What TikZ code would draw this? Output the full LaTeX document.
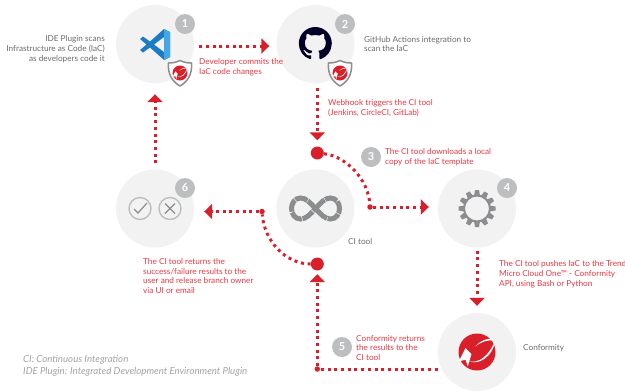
\documentclass[tikz,border=0pt]{standalone}
\usepackage{fontspec}
\setmainfont{Lato}
\usetikzlibrary{positioning, arrows.meta, svg.path}

\definecolor{trendred}{HTML}{D9202A}
\definecolor{labelred}{HTML}{E23A44}
\definecolor{labelgrey}{HTML}{6A6B6D}
\definecolor{notegrey}{HTML}{A2A3A5}
\definecolor{discgrey}{HTML}{F2F2F2}
\definecolor{badgegrey}{HTML}{BDBEC0}
\definecolor{icongrey}{HTML}{8C8D8F}
\definecolor{logoblue}{HTML}{1B7CC4}
\definecolor{logolight}{HTML}{45A6E6}

\tikzset{
    stepdisc/.style={circle, fill=discgrey, minimum size=78bp, inner sep=0},
    badge/.style={circle, fill=badgegrey, text=white, minimum size=20bp, inner sep=0, font=\fontsize{11}{11}\selectfont\bfseries},
    redtext/.style={text=labelred, align=left, anchor=west, inner sep=0, font=\fontsize{8.25}{10}\selectfont},
    greytext/.style={text=labelgrey, align=left, anchor=west, inner sep=0, font=\fontsize{8.25}{10}\selectfont},
    junction/.style={circle, fill=trendred, minimum size=13bp, inner sep=0},
    smalldot/.style={circle, fill=trendred, minimum size=5.5bp, inner sep=0},
    flow/.style={trendred, line width=3bp, dash pattern=on 3bp off 3.7bp},
    flowtip/.style={flow, -{Triangle[length=8bp, width=15bp]}}
}

% red ball with the white swoosh
\newcommand{\trendball}[3]{
    \begin{scope}[shift={(#1,#2)}, scale=#3]
        \fill[trendred] (0,0) circle (1);
        \fill[white] (.98,-.62) .. controls (.62,.25) and (.1,.62) .. (-.45,.5)
            .. controls (.05,.72) and (.85,.3) .. (.98,-.62);
        \fill[white] (-.62,-.22) -- (-.98,.5) -- (-.62,.42) -- (-.5,.78) -- (-.3,.12) -- cycle;
        \fill[white] (-.1,-.3) .. controls (.3,-.72) and (.75,-.8) .. (.98,-.62)
            .. controls (.7,-.68) and (.3,-.6) .. (-.1,-.3);
    \end{scope}
}
\newcommand{\shieldmark}[2]{
    \filldraw[draw=icongrey, fill=white, line width=1.5bp, line join=round] (#1,#2-12.5)
        .. controls (#1-4,#2-10.5) and (#1-8,#2-10) .. (#1-11.5,#2-10)
        .. controls (#1-12.5,#2+2) and (#1-7,#2+9) .. (#1,#2+13)
        .. controls (#1+7,#2+9) and (#1+12.5,#2+2) .. (#1+11.5,#2-10)
        .. controls (#1+8,#2-10) and (#1+4,#2-10.5) .. (#1,#2-12.5) -- cycle;
    \trendball{#1}{#2}{7.5}
}

\begin{document}
\begin{tikzpicture}[x=1bp, y=-1bp]
    \useasboundingbox (0,0) rectangle (625,391);

    % discs
    \node (one) [stepdisc] at (155,44) {};
    \node (two) [stepdisc] at (315.5,44) {};
    \node (six) [stepdisc] at (155,208.5) {};
    \node (citool) [stepdisc] at (315.5,208.5) {};
    \node (four) [stepdisc] at (477,208.5) {};
    \node (conf) [stepdisc] at (477,352) {};

    % junctions
    \node (junA) [junction] at (317.3,153) {};
    \node (junD) [junction] at (317.3,264) {};
    \node (dotB) [smalldot] at (370,207) {};
    \node (dotC) [smalldot] at (317.3,369) {};
    \node (dotE) [smalldot] at (262,211.5) {};

    % connectors
    \draw [flowtip, shorten <=5bp, shorten >=7bp] ([yshift=-2bp]one.east) -- ([yshift=-2bp]two.west);
    \draw [flowtip, shorten <=5bp, shorten >=6bp] (junA |- two.south) -- (junA);
    \draw [flow] (junA) .. controls (345,156) and (368,178) .. (dotB);
    \draw [flowtip, shorten >=9bp] (dotB) -- (four.west |- dotB);
    \draw [flowtip, shorten <=3bp, shorten >=7bp] (four.south) -- (conf.north);
    \draw [flow] (conf.west |- dotC) -- (dotC);
    \draw [flowtip, shorten >=3.5bp] (dotC) -- (junD);
    \draw [flow] (junD) .. controls (285,264) and (264,240) .. (dotE);
    \draw [flowtip, shorten >=10bp] (dotE) -- (six.east |- dotE);
    \draw [flowtip, shorten <=6bp, shorten >=11bp] (six.north) -- (one.south);

    % badges
    \node (badgeA) [badge] at (185,24) {1};
    \node (badgeB) [badge] at (345,24) {2};
    \node (badgeC) [badge] at (371,157) {3};
    \node (badgeD) [badge] at (507,188) {4};
    \node (badgeE) [badge] at (342,347) {5};
    \node (badgeF) [badge] at (185,188) {6};

    % editor logo
    \fill[logoblue] (164,29) -- (170,32) -- (170,57) -- (164,60) -- (150,47.5) -- (143,52.5)
        -- (140,50) -- (146.5,44.5) -- (140,39) -- (143,36.5) -- (150,41.5) -- cycle
        (164,37) -- (154,44.5) -- (164,52) -- cycle;
    \fill[logolight] (164,29) -- (170,32) -- (170,57) -- (164,60) -- (164,52) -- (164,37) -- cycle;
    \shieldmark{180}{73}

    % repository logo
    \begin{scope}[shift={(298.8,27)}, scale=2.07, yscale=-1]
        \fill[black!85!blue] svg {M 8 0 C 3.58 0 0 3.58 0 8 c 0 3.54 2.29 6.53 5.47 7.59 0.4 0.07 0.55 -0.17 0.55 -0.38 0 -0.19 -0.01 -0.82 -0.01 -1.49 -2.01 0.37 -2.53 -0.49 -2.69 -0.94 -0.09 -0.23 -0.48 -0.94 -0.82 -1.13 -0.28 -0.15 -0.68 -0.52 -0.01 -0.53 0.63 -0.01 1.08 0.58 1.23 0.82 0.72 1.21 1.87 0.87 2.33 0.66 0.07 -0.52 0.28 -0.87 0.51 -1.07 -1.78 -0.2 -3.64 -0.89 -3.64 -3.95 0 -0.87 0.31 -1.59 0.82 -2.15 -0.08 -0.2 -0.36 -1.02 0.08 -2.12 0 0 0.67 -0.21 2.2 0.82 0.64 -0.18 1.32 -0.27 2 -0.27 0.68 0 1.36 0.09 2 0.27 1.53 -1.04 2.2 -0.82 2.2 -0.82 0.44 1.1 0.16 1.92 0.08 2.12 0.51 0.56 0.82 1.27 0.82 2.15 0 3.07 -1.87 3.75 -3.65 3.95 0.29 0.25 0.54 0.73 0.54 1.48 0 1.07 -0.01 1.93 -0.01 2.2 0 0.21 0.15 0.46 0.55 0.38 C 13.71 14.53 16 11.53 16 8 c 0 -4.42 -3.58 -8 -8 -8 z};
    \end{scope}
    \shieldmark{340}{73}

    % check and cross
    \draw[badgegrey, line width=1.4bp] (140,208.5) circle (11);
    \draw[badgegrey, line width=1.4bp] (170,208.5) circle (11);
    \draw[icongrey, line width=1.2bp] (134,209) -- (138,213) -- (147,203);
    \draw[icongrey, line width=1.2bp] (165,203.5) -- (175,213.5) (175,203.5) -- (165,213.5);

    % loop
    \draw[icongrey, line width=5bp, dash pattern=on 12.5bp off .8bp]
        (315.5,208.5) .. controls (321,202.5) and (325,198) .. (330.5,198)
        .. controls (336,198) and (339.5,203) .. (339.5,208.5)
        .. controls (339.5,214) and (336,219) .. (330.5,219)
        .. controls (325,219) and (321,214.5) .. (315.5,208.5)
        .. controls (310,202.5) and (306,198) .. (300.5,198)
        .. controls (295,198) and (291.5,203) .. (291.5,208.5)
        .. controls (291.5,214) and (295,219) .. (300.5,219)
        .. controls (306,219) and (310,214.5) .. (315.5,208.5);

    % gear
    \foreach \ang in {0,30,...,330} {
        \fill[icongrey, rotate around={\ang:(477,208.5)}] (475,190) -- (479,190) -- (480,196) -- (474,196) -- cycle;
    }
    \draw[icongrey, line width=2bp] (477,208.5) circle (13);

    \trendball{477}{352}{18.5}

    % labels
    \node (textA) [greytext, anchor=east, align=right] at (105,49) {IDE Plugin scans\\Infrastructure as Code (IaC)\\as developers code it};
    \node (textB) [redtext] at (199,67) {Developer commits the\\IaC code changes};
    \node (textC) [greytext] at (364,44) {GitHub Actions integration to\\scan the IaC};
    \node (textD) [redtext] at (328,108) {Webhook triggers the CI tool\\(Jenkins, CircleCI, GitLab)};
    \node (textE) [redtext] at (385,157) {The CI tool downloads a local\\copy of the IaC template};
    \node (textF) [greytext] at (348,241) {CI tool};
    \node (textG) [redtext] at (499,274) {The CI tool pushes IaC to the Trend\\Micro Cloud One™ - Conformity\\API, using Bash or Python};
    \node (textH) [redtext] at (143,276) {The CI tool returns the\\success/failure results to the\\user and release branch owner\\via UI or email};
    \node (textI) [redtext] at (356,348) {Conformity returns\\the results to the\\CI tool};
    \node (textJ) [greytext] at (523,348) {Conformity};
    \node (notes) [anchor=west, align=left, inner sep=0, text=notegrey, font=\fontsize{9.7}{12}\selectfont\itshape] at (23,366) {CI: Continuous Integration\\IDE Plugin: Integrated Development Environment Plugin};
\end{tikzpicture}
\end{document}
